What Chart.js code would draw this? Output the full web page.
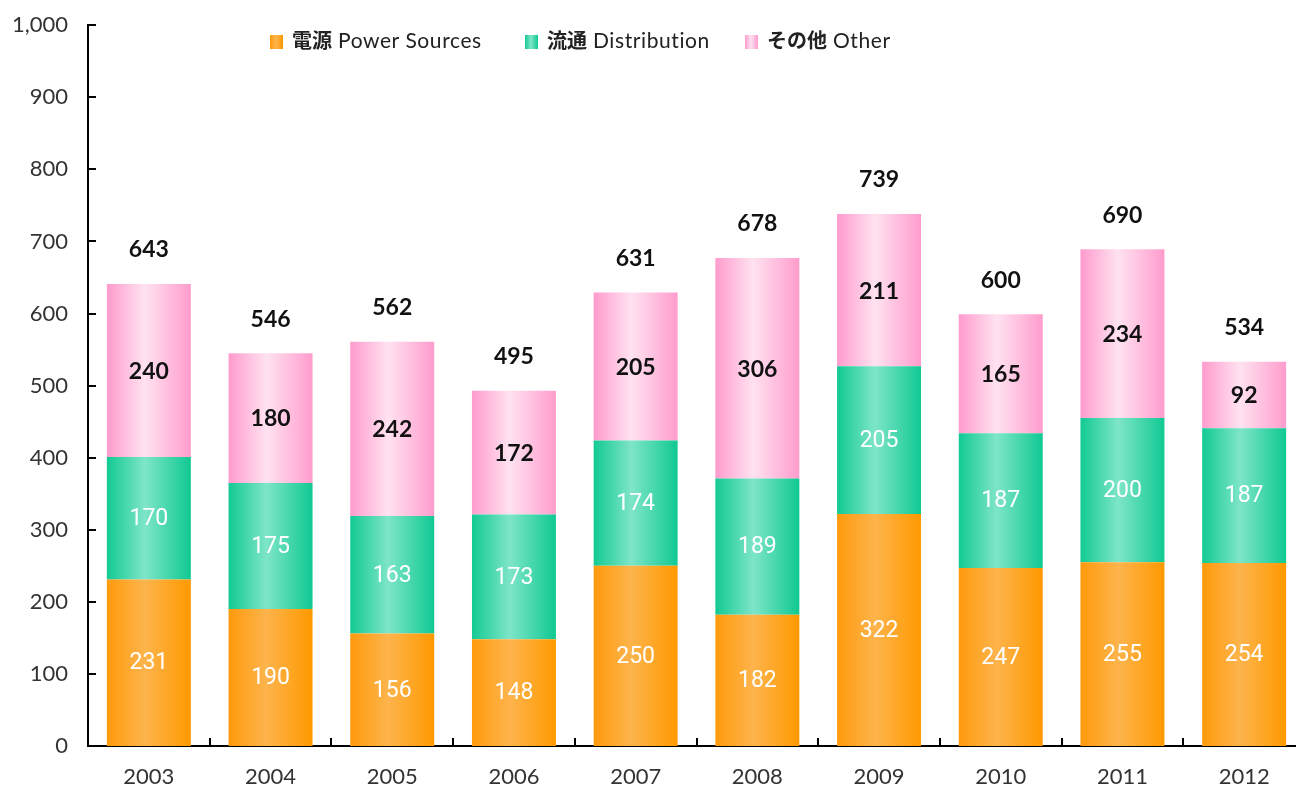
<!DOCTYPE html>
<html>
<head>
<meta charset="utf-8">
<script src="https://cdn.jsdelivr.net/npm/chart.js@4"></script>
<style>
    html, body { margin: 0; padding: 0; background: #fff; overflow: hidden; }
    #wrap { position: relative; width: 1296px; height: 787px; overflow: hidden; }
    #legend { position: absolute; left: 0; top: 27px; height: 26px; font-family: Lato, sans-serif; font-size: 21px; color: #222; letter-spacing: 0.6px; }
    #legend .item { position: absolute; top: 0; white-space: nowrap; line-height: 26px; }
    #legend .box { display: inline-block; width: 13px; height: 14px; vertical-align: -1px; margin-right: 9px; }
    #legend b { font-family: "Noto Sans CJK JP", sans-serif; font-weight: bold; font-size: 20px; letter-spacing: 0; }
</style>
</head>
<body>
<div id="wrap">
    <canvas id="chart" width="1305" height="787"></canvas>
    <div id="legend"></div>
</div>
<script>
    var years = ['2003', '2004', '2005', '2006', '2007', '2008', '2009', '2010', '2011', '2012'];
    var powerSources = [231, 190, 156, 148, 250, 182, 322, 247, 255, 254];
    var distribution = [170, 175, 163, 173, 174, 189, 205, 187, 200, 187];
    var other = [240, 180, 242, 172, 205, 306, 211, 165, 234, 92];
    var totals = [643, 546, 562, 495, 631, 678, 739, 600, 690, 534];
    var yTicks = [0, 100, 200, 300, 400, 500, 600, 700, 800, 900, 1000];

    var seriesNames = [
        { jp: '電源', en: 'Power Sources' },
        { jp: '流通', en: 'Distribution' },
        { jp: 'その他', en: 'Other' }
    ];

    var orangeStops = [[0, '#ff9a0c'], [0.45, '#fdb44c'], [1, '#ff9900']];
    var tealStops = [[0, '#12ca93'], [0.45, '#7ee5c8'], [1, '#10c992']];
    var pinkStops = [[0, '#ff9bcd'], [0.45, '#ffe2f0'], [1, '#ff9ccd']];

    var barFraction = 0.69;

    function barGradient(stops) {
        return function (context) {
            var chart = context.chart;
            var xScale = chart.scales.x;
            if (!chart.chartArea || !xScale) {
                return stops[1][1];
            }
            var center = xScale.getPixelForValue(context.dataIndex);
            var w = (xScale.width / years.length) * barFraction;
            var g = chart.ctx.createLinearGradient(center - w / 2, 0, center + w / 2, 0);
            stops.forEach(function (s) {
                g.addColorStop(s[0], s[1]);
            });
            return g;
        };
    }

    function cssGradient(stops) {
        return 'linear-gradient(to right, ' + stops.map(function (s) {
            return s[1] + ' ' + (s[0] * 100) + '%';
        }).join(', ') + ')';
    }

    // legend as html text, placed like the original
    var legendX = [270, 525, 745];
    var legendStops = [orangeStops, tealStops, pinkStops];
    var legendEl = document.getElementById('legend');
    seriesNames.forEach(function (s, i) {
        var item = document.createElement('div');
        item.className = 'item';
        item.style.left = legendX[i] + 'px';
        item.innerHTML = '<span class="box" style="background:' + cssGradient(legendStops[i]) + '"></span>' +
            '<b>' + s.jp + '</b> ' + s.en;
        legendEl.appendChild(item);
    });

    // tick marks pointing into the plot
    var innerTicks = {
        id: 'innerTicks',
        afterDraw: function (chart) {
            var ctx = chart.ctx;
            var x = chart.scales.x;
            var y = chart.scales.y;
            ctx.save();
            ctx.strokeStyle = '#000';
            ctx.lineWidth = 2;
            ctx.beginPath();
            yTicks.forEach(function (v) {
                var py = Math.round(y.getPixelForValue(v));
                ctx.moveTo(x.left, py);
                ctx.lineTo(x.left + 8, py);
            });
            for (var i = 1; i < years.length; i++) {
                var px = Math.round((x.getPixelForValue(i - 1) + x.getPixelForValue(i)) / 2);
                ctx.moveTo(px, y.bottom);
                ctx.lineTo(px, y.bottom - 8);
            }
            ctx.stroke();
            ctx.restore();
        }
    };

    // value labels inside the bars and totals on top
    var barLabels = {
        id: 'barLabels',
        afterDatasetsDraw: function (chart) {
            var ctx = chart.ctx;
            ctx.save();
            ctx.textAlign = 'center';
            ctx.textBaseline = 'middle';
            chart.data.datasets.forEach(function (ds, di) {
                var meta = chart.getDatasetMeta(di);
                meta.data.forEach(function (bar, i) {
                    if (di === 2) {
                        ctx.fillStyle = '#111';
                        ctx.font = 'bold 23px Lato, sans-serif';
                    } else {
                        ctx.fillStyle = '#fff';
                        ctx.font = '23px Roboto, sans-serif';
                    }
                    ctx.fillText(ds.data[i], bar.x, (bar.y + bar.base) / 2 + 1);
                    if (di === 2) {
                        ctx.fillText(totals[i], bar.x, bar.y - 34);
                    }
                });
            });
            ctx.restore();
        }
    };

    var ctx = document.getElementById('chart').getContext('2d');
    var chart = new Chart(ctx, {
        type: 'bar',
        data: {
            labels: years,
            datasets: [
                { label: '電源 Power Sources', data: powerSources, backgroundColor: barGradient(orangeStops) },
                { label: '流通 Distribution', data: distribution, backgroundColor: barGradient(tealStops) },
                { label: 'その他 Other', data: other, backgroundColor: barGradient(pinkStops) }
            ]
        },
        options: {
            responsive: false,
            animation: false,
            devicePixelRatio: 1,
            layout: { padding: { top: 15, right: 0, left: 0, bottom: 0 } },
            datasets: {
                bar: { barPercentage: barFraction, categoryPercentage: 1, borderWidth: 0 }
            },
            plugins: {
                legend: { display: false },
                tooltip: { enabled: false }
            },
            scales: {
                x: {
                    stacked: true,
                    grid: { display: false },
                    border: { display: true, color: '#000', width: 2 },
                    ticks: { color: '#333', padding: 10, font: { family: 'Lato', size: 22 } },
                    afterFit: function (scale) { scale.height = 41; }
                },
                y: {
                    stacked: true,
                    min: 0,
                    max: 1000,
                    grid: { display: false },
                    border: { display: true, color: '#000', width: 2 },
                    afterBuildTicks: function (scale) {
                        scale.ticks = yTicks.map(function (v) { return { value: v }; });
                    },
                    ticks: {
                        color: '#333',
                        padding: 12,
                        font: { family: 'Lato', size: 22 },
                        callback: function (v) { return v.toLocaleString('en-US'); }
                    },
                    afterFit: function (scale) { scale.width = 88; }
                }
            }
        },
        plugins: [innerTicks, barLabels]
    });
</script>
</body>
</html>
